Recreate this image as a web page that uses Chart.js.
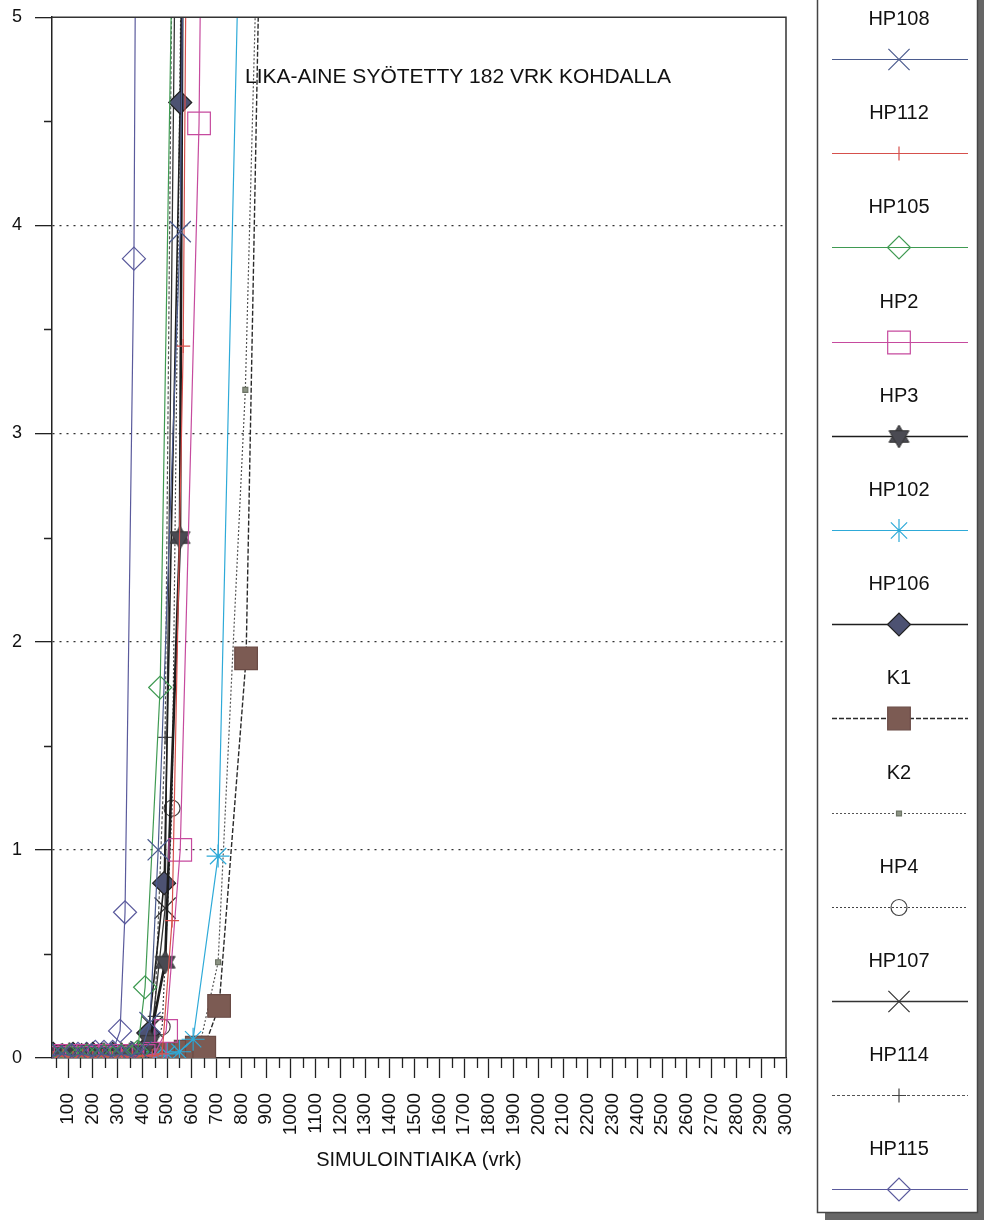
<!DOCTYPE html>
<html>
<head>
<meta charset="utf-8">
<script src="https://cdn.jsdelivr.net/npm/chart.js@4/dist/chart.umd.min.js"></script>
<style>
  html, body { margin: 0; padding: 0; background: #ffffff; }
  canvas { display: block; }
</style>
</head>
<body>
<canvas id="chart" width="984" height="1228"></canvas>
<script>
// Axis tick labels
const xTickDays = [100, 200, 300, 400, 500, 600, 700, 800, 900, 1000, 1100, 1200, 1300, 1400, 1500,
                   1600, 1700, 1800, 1900, 2000, 2100, 2200, 2300, 2400, 2500, 2600, 2700, 2800, 2900, 3000];
const yTickValues = [0, 1, 2, 3, 4, 5];

// Series names, in legend order
const seriesNames = ['HP108', 'HP112', 'HP105', 'HP2', 'HP3', 'HP102', 'HP106', 'K1', 'K2', 'HP4', 'HP107', 'HP114', 'HP115'];

// Breakthrough curves: simulation day and concentration per observation well
const hp108Days   = [35, 75, 115, 155, 195, 235, 275, 315, 355, 395, 431, 464, 553, 600];
const hp108Values = [0.01, 0.02, 0.01, 0.02, 0.01, 0.02, 0.01, 0.02, 0.01, 0.03, 0.17, 1.0, 3.97, 9.5];

const hp112Days   = [40, 80, 120, 160, 200, 240, 280, 320, 360, 400, 440, 480, 520, 565, 600];
const hp112Values = [0, 0.01, 0, 0.01, 0, 0.01, 0, 0.01, 0, 0.01, 0.01, 0.02, 0.66, 3.42, 9.0];

const hp105Days   = [35, 70, 105, 140, 175, 210, 245, 280, 315, 350, 380, 411, 472, 530];
const hp105Values = [0.01, 0, 0.01, 0, 0.01, 0, 0.01, 0, 0.01, 0.01, 0.03, 0.34, 1.78, 6.0];

const hp2Days     = [45, 90, 135, 180, 225, 270, 315, 360, 405, 450, 496, 553, 629, 680];
const hp2Values   = [0, 0.01, 0, 0.01, 0, 0.01, 0, 0.01, 0.01, 0.02, 0.13, 1.0, 4.49, 10.2];

const hp3Days     = [35, 70, 105, 140, 175, 210, 245, 280, 315, 350, 385, 430, 492, 552, 600];
const hp3Values   = [0.02, 0.01, 0.02, 0.01, 0.02, 0.01, 0.02, 0.01, 0.02, 0.02, 0.03, 0.08, 0.46, 2.5, 15.8];

const hp102Days   = [50, 100, 150, 200, 250, 300, 350, 400, 450, 500, 550, 605, 706, 820];
const hp102Values = [0, 0.01, 0, 0.01, 0, 0.01, 0, 0.01, 0.01, 0.02, 0.03, 0.09, 0.97, 6.93];

const hp106Days   = [40, 80, 120, 160, 200, 240, 280, 320, 360, 400, 424, 488, 553, 600];
const hp106Values = [0.02, 0.01, 0.02, 0.01, 0.02, 0.01, 0.02, 0.01, 0.02, 0.03, 0.12, 0.84, 4.59, 9.4];

const k1Days      = [35, 80, 125, 170, 215, 260, 305, 350, 395, 440, 485, 530, 575, 620, 650, 710, 819, 900];
const k1Values    = [0.01, 0.01, 0.01, 0.01, 0.01, 0.01, 0.01, 0.01, 0.01, 0.01, 0.02, 0.02, 0.03, 0.05, 0.05, 0.25, 1.92, 7.0];

const k2Days      = [35, 85, 135, 185, 235, 285, 335, 385, 435, 485, 535, 585, 630, 706, 816, 900];
const k2Values    = [0.01, 0, 0.01, 0, 0.01, 0, 0.01, 0, 0.01, 0.01, 0.02, 0.03, 0.05, 0.46, 3.21, 7.0];

const hp4Days     = [40, 90, 140, 190, 240, 290, 340, 390, 440, 480, 520, 560, 600];
const hp4Values   = [0.01, 0.02, 0.01, 0.02, 0.01, 0.02, 0.01, 0.02, 0.03, 0.15, 1.2, 5.6, 14.0];

const hp107Days   = [35, 75, 115, 155, 195, 235, 275, 315, 355, 395, 440, 492, 540];
const hp107Values = [0.02, 0.02, 0.01, 0.02, 0.02, 0.01, 0.02, 0.02, 0.01, 0.03, 0.15, 0.72, 6.2];

const hp114Days   = [45, 90, 135, 180, 225, 270, 315, 360, 405, 450, 492, 540];
const hp114Values = [0.01, 0.02, 0.01, 0.02, 0.01, 0.02, 0.01, 0.02, 0.03, 0.2, 1.54, 8.0];

const hp115Days   = [35, 70, 105, 140, 175, 210, 245, 280, 310, 330, 366, 400];
const hp115Values = [0.01, 0.01, 0.01, 0.02, 0.02, 0.03, 0.03, 0.03, 0.13, 0.70, 3.84, 11.7];

const seriesDays   = [hp108Days, hp112Days, hp105Days, hp2Days, hp3Days, hp102Days, hp106Days, k1Days, k2Days, hp4Days, hp107Days, hp114Days, hp115Days];
const seriesValues = [hp108Values, hp112Values, hp105Values, hp2Values, hp3Values, hp102Values, hp106Values, k1Values, k2Values, hp4Values, hp107Values, hp114Values, hp115Values];

const FONT = "'Liberation Sans', Arial, Helvetica, sans-serif";
Chart.defaults.font.family = FONT;
Chart.defaults.color = '#111';

// Filled six-pointed star marker
function sixStar(size, fill, stroke) {
  const c = document.createElement('canvas');
  c.width = size; c.height = size;
  const g = c.getContext('2d');
  const r = size / 2 - 1, cx = size / 2, cy = size / 2;
  g.fillStyle = fill; g.strokeStyle = stroke; g.lineWidth = 1;
  [-Math.PI / 2, Math.PI / 2].forEach(off => {
    g.beginPath();
    for (let k = 0; k < 3; k++) {
      const a = off + k * 2 * Math.PI / 3;
      const px = cx + r * Math.cos(a), py = cy + r * Math.sin(a);
      if (k === 0) g.moveTo(px, py); else g.lineTo(px, py);
    }
    g.closePath(); g.fill(); g.stroke();
  });
  return c;
}

// Line and marker styles per series
const styles = [
  { color: '#4b5b8e', width: 1.2, dash: [],     point: 'crossRot', r: 15,   fill: 'rgba(0,0,0,0)', pColor: '#4b5b8e' },
  { color: '#d6504c', width: 1.2, dash: [],     point: 'cross',    r: 7,    fill: 'rgba(0,0,0,0)', pColor: '#d6504c' },
  { color: '#3f9a52', width: 1.2, dash: [],     point: 'rectRot',  r: 11.5, fill: 'rgba(0,0,0,0)', pColor: '#3f9a52' },
  { color: '#c64a9e', width: 1.2, dash: [],     point: 'rect',     r: 16,   fill: 'rgba(0,0,0,0)', pColor: '#c64a9e' },
  { color: '#1c1c1c', width: 2.6, dash: [],     point: sixStar(25, '#4a4a52', '#333'), r: 12, fill: '#4a4a52', pColor: '#333' },
  { color: '#2eaad8', width: 1.2, dash: [],     point: 'star',     r: 11.5, fill: 'rgba(0,0,0,0)', pColor: '#2eaad8' },
  { color: '#1e1e1e', width: 1.6, dash: [],     point: 'rectRot',  r: 11.5, fill: '#4d5272', pColor: '#222' },
  { color: '#2a2a2a', width: 1.4, dash: [5, 2], point: 'rect',     r: 16,   fill: '#7c5b53', pColor: '#6a4b45' },
  { color: '#555555', width: 1.2, dash: [2, 2], point: 'rect',     r: 3.5,  fill: '#8c9484', pColor: '#6d7466' },
  { color: '#444444', width: 1.2, dash: [2, 2], point: 'circle',   r: 8,    fill: 'rgba(0,0,0,0)', pColor: '#444' },
  { color: '#333333', width: 1.3, dash: [],     point: 'crossRot', r: 15,   fill: 'rgba(0,0,0,0)', pColor: '#333' },
  { color: '#555555', width: 1.2, dash: [3, 2], point: 'cross',    r: 7,    fill: 'rgba(0,0,0,0)', pColor: '#444' },
  { color: '#5a5a9c', width: 1.2, dash: [],     point: 'rectRot',  r: 11.5, fill: 'rgba(0,0,0,0)', pColor: '#5a5a9c' }
];

const datasets = seriesNames.map((name, i) => ({
  label: name,
  data: seriesDays[i].map((d, j) => ({ x: d, y: seriesValues[i][j] })),
  borderColor: styles[i].color,
  borderWidth: styles[i].width,
  borderDash: styles[i].dash,
  pointStyle: styles[i].point,
  pointRadius: styles[i].r,
  pointBackgroundColor: styles[i].fill,
  pointBorderColor: styles[i].pColor,
  pointBorderWidth: 1.2,
  tension: 0,
  fill: false,
  clip: 0
}));

// Minor ticks, frame, annotation and the boxed legend
const decorations = {
  id: 'decorations',
  afterDraw(chart) {
    const ctx = chart.ctx;
    const xs = chart.scales.x, ys = chart.scales.y;
    const a = chart.chartArea;
    ctx.save();
    ctx.strokeStyle = '#222';
    ctx.lineWidth = 1.3;
    // minor ticks
    ctx.beginPath();
    xTickDays.forEach(v => {
      const px = Math.round(xs.getPixelForValue(v - 50)) + 0.5;
      ctx.moveTo(px, a.bottom); ctx.lineTo(px, a.bottom + 10);
    });
    yTickValues.slice(1).forEach(v => {
      const py = Math.round(ys.getPixelForValue(v - 0.5)) + 0.5;
      ctx.moveTo(a.left - 8, py); ctx.lineTo(a.left, py);
    });
    ctx.stroke();
    // top and right frame
    ctx.lineWidth = 1.5;
    ctx.strokeStyle = '#333';
    ctx.beginPath();
    ctx.moveTo(a.left, a.top); ctx.lineTo(a.right, a.top); ctx.lineTo(a.right, a.bottom);
    ctx.stroke();
    // annotation
    ctx.fillStyle = '#111';
    ctx.font = '21px ' + FONT;
    ctx.textBaseline = 'middle';
    ctx.textAlign = 'left';
    ctx.fillText('LIKA-AINE SYÖTETTY 182 VRK KOHDALLA', a.left + 193, a.top + 60);

    // legend box with shadow
    const bx = 817, by = -10, bw = 160, bh = 1222;
    ctx.fillStyle = '#666';
    ctx.fillRect(bx + 8, by + 8, bw, bh);
    ctx.fillStyle = '#fff';
    ctx.fillRect(bx, by, bw, bh);
    ctx.strokeStyle = '#444';
    ctx.lineWidth = 1.5;
    ctx.strokeRect(bx + 0.5, by + 0.5, bw, bh);

    const cx = 899;
    chart.data.datasets.forEach((ds, i) => {
      const ly = Math.round(59 + i * 94.2) + 0.5;
      ctx.fillStyle = '#111';
      ctx.font = '20px ' + FONT;
      ctx.textAlign = 'center';
      ctx.textBaseline = 'middle';
      ctx.fillText(ds.label, cx, ly - 40);
      ctx.strokeStyle = ds.borderColor;
      ctx.lineWidth = Math.min(ds.borderWidth, 1.6);
      ctx.setLineDash(ds.borderDash || []);
      ctx.beginPath();
      ctx.moveTo(832, ly); ctx.lineTo(968, ly);
      ctx.stroke();
      ctx.setLineDash([]);
      ctx.fillStyle = ds.pointBackgroundColor;
      ctx.strokeStyle = ds.pointBorderColor;
      ctx.lineWidth = ds.pointBorderWidth;
      Chart.helpers.drawPoint(ctx, {
        pointStyle: ds.pointStyle, radius: ds.pointRadius, rotation: 0, borderWidth: ds.pointBorderWidth
      }, cx, ly);
    });
    ctx.restore();
  }
};

new Chart(document.getElementById('chart'), {
  type: 'line',
  data: { datasets },
  plugins: [decorations],
  options: {
    responsive: false,
    animation: false,
    devicePixelRatio: 1,
    layout: { padding: { top: 15, right: 198, left: 0, bottom: 0 } },
    plugins: { legend: { display: false }, tooltip: { enabled: false } },
    scales: {
      x: {
        type: 'linear',
        min: 35,
        max: 3000,
        afterBuildTicks: s => { s.ticks = xTickDays.map(v => ({ value: v })); },
        afterFit: s => { s.height = 170; s.paddingLeft = 0; s.paddingRight = 0; },
        ticks: {
          autoSkip: false, maxRotation: 90, minRotation: 90,
          font: { size: 19 }, color: '#111', padding: 15,
          callback: v => String(v)
        },
        grid: { drawOnChartArea: false, drawTicks: true, tickLength: 20, tickColor: '#222', tickWidth: 1.3 },
        border: { color: '#222', width: 1.5 },
        title: {
          display: true, text: 'SIMULOINTIAIKA (vrk)',
          font: { size: 20 }, color: '#111', padding: { top: 0, bottom: 56 }
        }
      },
      y: {
        type: 'linear',
        min: 0,
        max: 5,
        afterBuildTicks: s => { s.ticks = yTickValues.map(v => ({ value: v })); },
        afterFit: s => { s.width = 52; s.paddingTop = 0; s.paddingBottom = 0; },
        ticks: { font: { size: 18 }, color: '#111', padding: 13 },
        grid: {
          drawOnChartArea: true, drawTicks: true, tickLength: 17,
          tickColor: '#222', tickWidth: 1.3, lineWidth: 1.3,
          color: c => (c.tick && c.tick.value > 0 && c.tick.value < 5) ? '#333' : 'rgba(0,0,0,0)'
        },
        border: { color: '#222', width: 1.5, dash: [2, 5] }
      }
    }
  }
});
</script>
</body>
</html>
